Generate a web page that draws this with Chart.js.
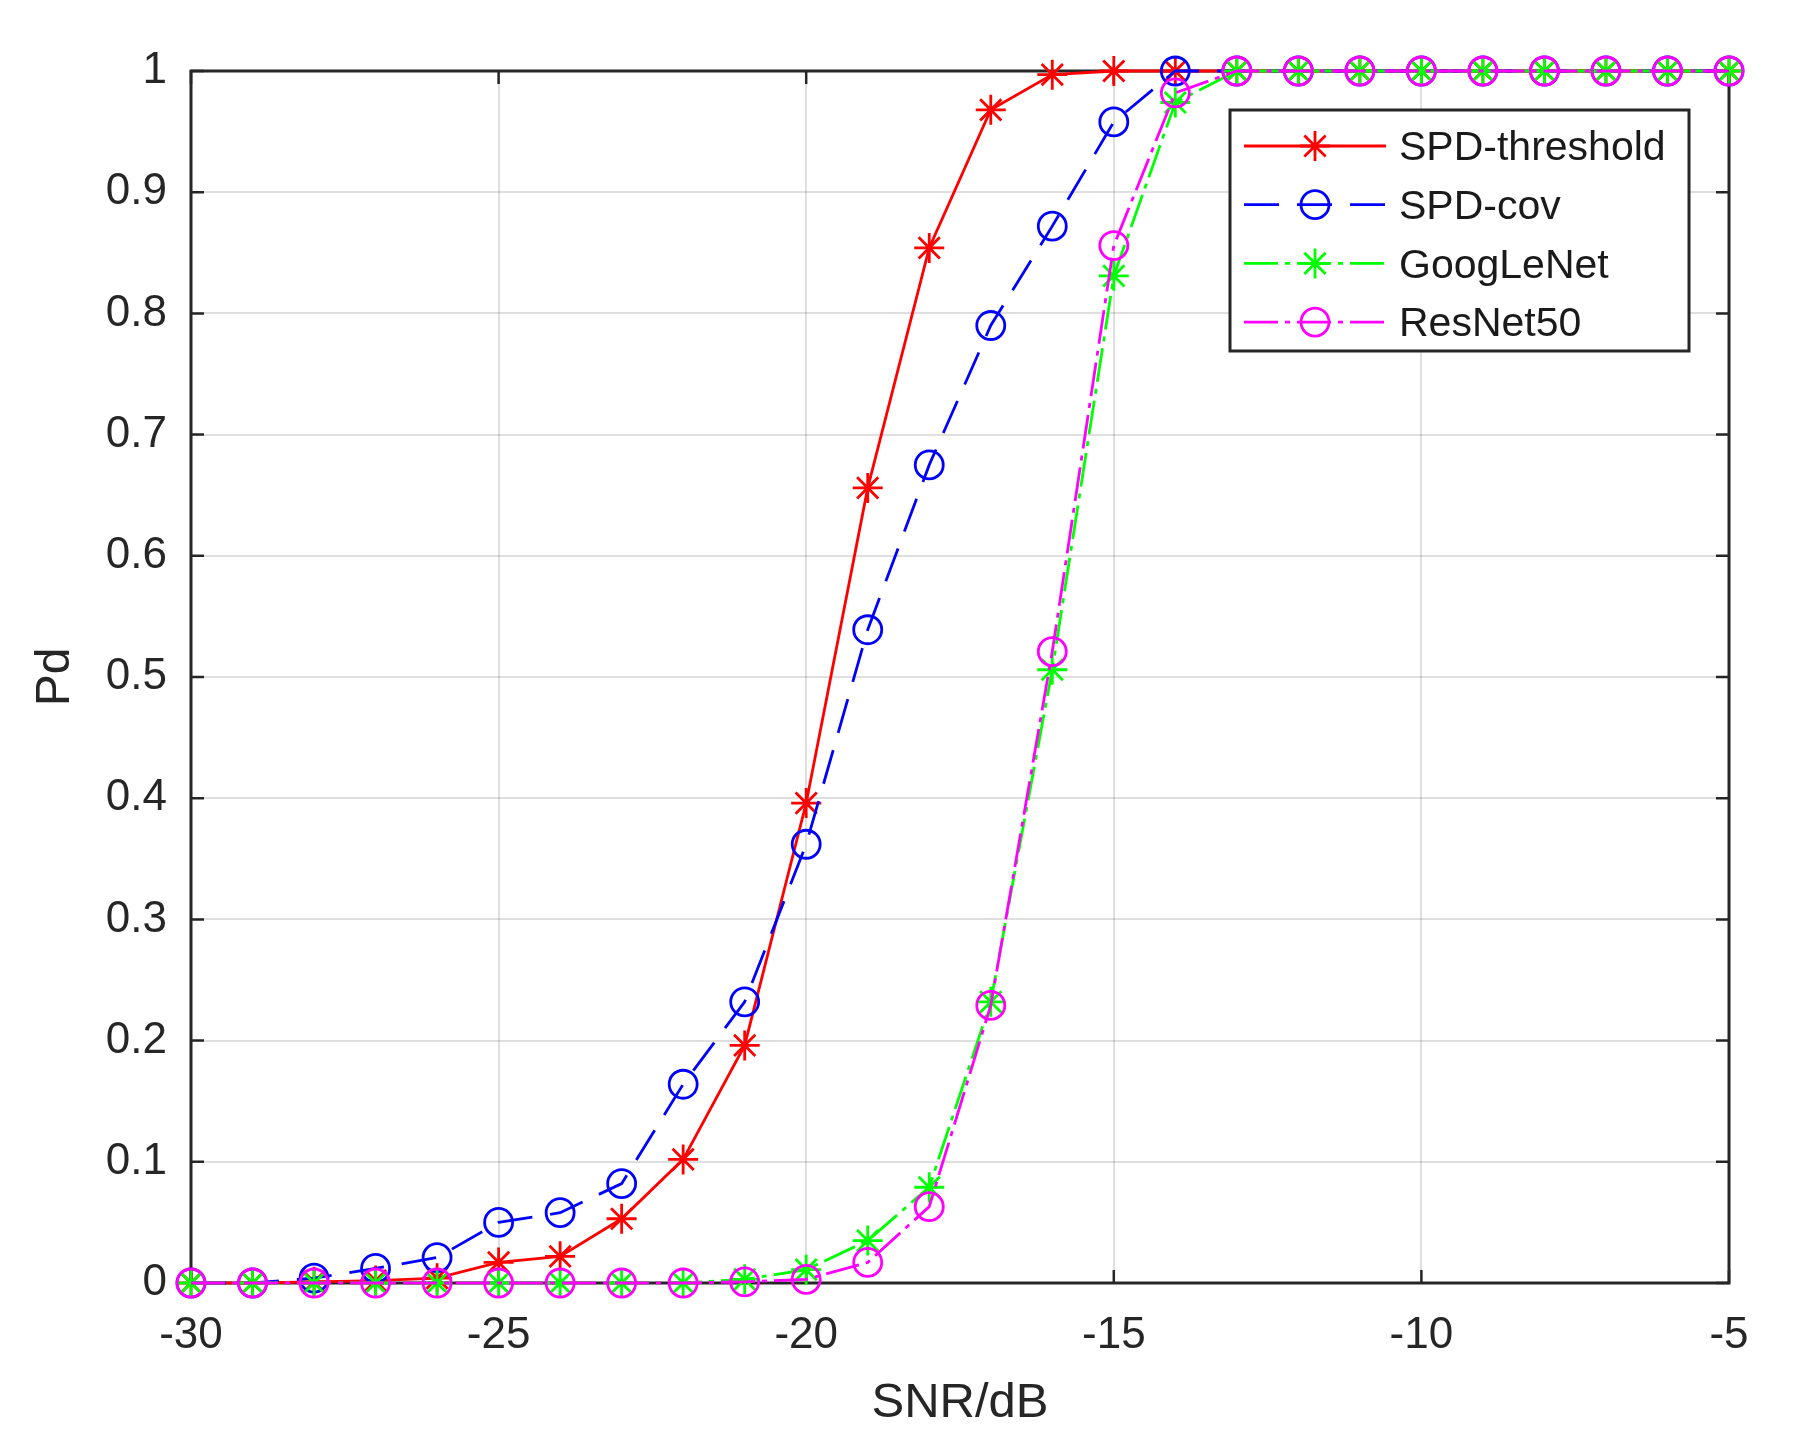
<!DOCTYPE html>
<html lang="en">
<head>
    <meta charset="UTF-8">
    <title>Pd vs SNR</title>
    <script src="https://cdn.jsdelivr.net/npm/chart.js@4.4.1/dist/chart.umd.min.js"></script>
    <style>
        body { margin: 0; background: #fff; }
        #chart { display: block; }
    </style>
</head>
<body>
    <canvas id="chart" width="1808" height="1455"></canvas>
    <script>
        // SNR in dB, one point per dB
        const snr = [-30, -29, -28, -27, -26, -25, -24, -23, -22, -21, -20, -19, -18,
                     -17, -16, -15, -14, -13, -12, -11, -10, -9, -8, -7, -6, -5];

        const spdThreshold = [0, 0, 0.001, 0.002, 0.004, 0.017, 0.022, 0.053, 0.102, 0.196, 0.396, 0.656, 0.854,
                              0.968, 0.997, 1, 1, 1, 1, 1, 1, 1, 1, 1, 1, 1];
        const spdCov = [0, 0, 0.004, 0.012, 0.021, 0.050, 0.058, 0.082, 0.164, 0.232, 0.362, 0.539, 0.675,
                        0.790, 0.872, 0.958, 1, 1, 1, 1, 1, 1, 1, 1, 1, 1];
        const googLeNet = [0, 0, 0, 0, 0, 0, 0, 0, 0, 0.003, 0.011, 0.035, 0.079,
                           0.232, 0.506, 0.831, 0.974, 1, 1, 1, 1, 1, 1, 1, 1, 1];
        const resNet50 = [0, 0, 0, 0, 0, 0, 0, 0, 0, 0.001, 0.003, 0.017, 0.063,
                          0.229, 0.521, 0.856, 0.982, 1, 1, 1, 1, 1, 1, 1, 1, 1];

        const seriesNames = ['SPD-threshold', 'SPD-cov', 'GoogLeNet', 'ResNet50'];
        const xTickStep = 5;
        const yTickStep = 0.1;

        const FONT = '"Liberation Sans", Arial, Helvetica, sans-serif';
        const AXIS_COLOR = '#262626';

        function pts(values) {
            return snr.map((x, i) => ({ x: x, y: values[i] }));
        }

        function series(label, values, color, dash, marker, order) {
            return {
                label: label,
                data: pts(values),
                borderColor: color,
                backgroundColor: color,
                borderWidth: 2.8,
                borderDash: dash,
                pointStyle: marker,
                pointRadius: marker === 'star' ? 15 : 14,
                pointBorderColor: color,
                pointBackgroundColor: 'rgba(0,0,0,0)',
                pointBorderWidth: 2.8,
                tension: 0,
                clip: false,
                order: order
            };
        }

        // box around the plot plus inward ticks on all four sides
        const frame = {
            id: 'frame',
            beforeDatasetsDraw(chart) {
                const { ctx, chartArea: a, scales } = chart;
                const x = scales.x, y = scales.y;
                ctx.save();
                ctx.strokeStyle = AXIS_COLOR;
                ctx.lineWidth = 2.5;
                ctx.beginPath();
                x.ticks.forEach(t => {
                    const px = x.getPixelForValue(t.value);
                    ctx.moveTo(px, a.bottom); ctx.lineTo(px, a.bottom - 13);
                    ctx.moveTo(px, a.top); ctx.lineTo(px, a.top + 13);
                });
                y.ticks.forEach(t => {
                    const py = y.getPixelForValue(t.value);
                    ctx.moveTo(a.left, py); ctx.lineTo(a.left + 13, py);
                    ctx.moveTo(a.right, py); ctx.lineTo(a.right - 13, py);
                });
                ctx.stroke();
                ctx.lineWidth = 3;
                ctx.strokeRect(a.left, a.top, a.right - a.left, a.bottom - a.top);
                ctx.restore();
            }
        };

        // matlab style legend: line sample with marker in the middle
        const boxLegend = {
            id: 'boxLegend',
            afterDraw(chart) {
                const ctx = chart.ctx;
                const a = chart.chartArea;
                const left = a.right - 499, top = a.top + 39, w = 459, h = 241;
                ctx.save();
                ctx.fillStyle = '#fff';
                ctx.fillRect(left, top, w, h);
                ctx.strokeStyle = AXIS_COLOR;
                ctx.lineWidth = 3;
                ctx.strokeRect(left, top, w, h);
                ctx.font = '41px ' + FONT;
                ctx.textBaseline = 'middle';
                chart.data.datasets.forEach((ds, i) => {
                    const yy = top + 36 + i * 58.7;
                    ctx.strokeStyle = ds.borderColor;
                    ctx.lineWidth = ds.borderWidth;
                    ctx.setLineDash(ds.borderDash);
                    ctx.beginPath();
                    ctx.moveTo(left + 14, yy);
                    ctx.lineTo(left + 156, yy);
                    ctx.stroke();
                    ctx.setLineDash([]);
                    ctx.lineWidth = ds.pointBorderWidth;
                    ctx.fillStyle = 'rgba(0,0,0,0)';
                    Chart.helpers.drawPoint(ctx, {
                        pointStyle: ds.pointStyle,
                        radius: ds.pointRadius,
                        borderWidth: ds.pointBorderWidth
                    }, left + 85, yy);
                    ctx.fillStyle = '#1a1a1a';
                    ctx.fillText(ds.label, left + 169, yy + 3);
                });
                ctx.restore();
            }
        };

        new Chart(document.getElementById('chart'), {
            type: 'line',
            data: {
                datasets: [
                    series(seriesNames[0], spdThreshold, '#ff0000', [], 'star', 4),
                    series(seriesNames[1], spdCov, '#0000ff', [35, 18], 'circle', 3),
                    series(seriesNames[2], googLeNet, '#00ff00', [34, 7, 5, 7], 'star', 2),
                    series(seriesNames[3], resNet50, '#ff00ff', [34, 7, 5, 7], 'circle', 1)
                ]
            },
            options: {
                responsive: false,
                animation: false,
                devicePixelRatio: 1,
                layout: { padding: { left: 0, top: 71, right: 79, bottom: 0 } },
                plugins: {
                    legend: { display: false },
                    tooltip: { enabled: false }
                },
                scales: {
                    x: {
                        type: 'linear',
                        min: -30,
                        max: -5,
                        afterFit: s => { s.height = 172; },
                        border: { display: false },
                        grid: { color: 'rgba(38,38,38,0.15)', lineWidth: 2, drawTicks: false },
                        ticks: {
                            stepSize: xTickStep,
                            padding: 26,
                            color: AXIS_COLOR,
                            font: { family: FONT, size: 44 },
                            callback: v => String(v)
                        },
                        title: {
                            display: true,
                            text: 'SNR/dB',
                            color: AXIS_COLOR,
                            font: { family: FONT, size: 49 },
                            padding: { top: 0, bottom: 22 }
                        }
                    },
                    y: {
                        min: 0,
                        max: 1,
                        afterFit: s => { s.width = 191; },
                        border: { display: false },
                        grid: { color: 'rgba(38,38,38,0.15)', lineWidth: 2, drawTicks: false },
                        ticks: {
                            stepSize: yTickStep,
                            padding: 24,
                            color: AXIS_COLOR,
                            font: { family: FONT, size: 44 },
                            callback: v => String(Math.round(v * 10) / 10)
                        },
                        title: {
                            display: true,
                            text: 'Pd',
                            color: AXIS_COLOR,
                            font: { family: FONT, size: 48 },
                            padding: { top: 27, bottom: 0 }
                        }
                    }
                }
            },
            plugins: [frame, boxLegend]
        });
    </script>
</body>
</html>
